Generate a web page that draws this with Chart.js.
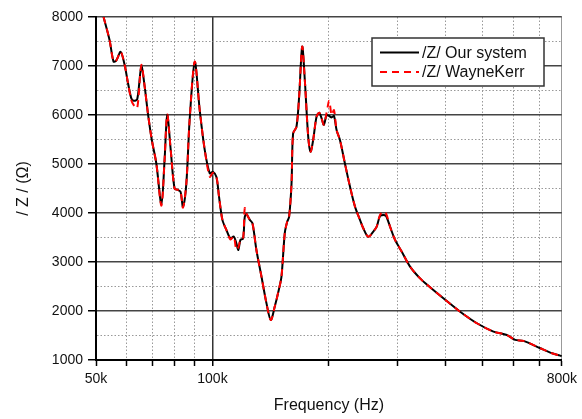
<!DOCTYPE html>
<html>
<head>
<meta charset="utf-8">
<script src="https://cdn.jsdelivr.net/npm/chart.js@4.4.0/dist/chart.umd.min.js"></script>
<style>
  html, body { margin: 0; padding: 0; background: #fff; }
  #wrap { width: 582px; height: 419px; }
</style>
</head>
<body>
<div id="wrap"><canvas id="impedance" width="582" height="419"></canvas></div>
<script>
// frequency in kHz
var freqKHz = [52.3, 54.2, 55.5, 56.4, 57.9, 59.3, 60.4, 61.7, 62.6, 63.9,
  65.5, 66.8, 68.1, 69.7, 71.6, 73.8, 75.2, 76.4, 78.0, 79.8,
  81.4, 82.7, 83.9, 85.6, 87.3, 90.0, 92.7, 95.5, 98.4, 100.3,
  102.4, 104.0, 106.1, 108.7, 111.3, 113.5, 115.3, 116.7, 118.1, 120.0,
  121.2, 122.4, 124.9, 126.9, 129.9, 133.9, 137.9, 141.5, 144.9, 148.4,
  150.8, 153.8, 156.0, 157.8, 160.1, 161.6, 164.9, 167.5, 170.6, 173.3,
  176.8, 179.3, 182.1, 185.8, 188.8, 191.5, 194.1, 197.3, 200.4, 203.2,
  206.1, 209.4, 213.6, 220.0, 226.7, 233.6, 240.6, 245.4, 252.8, 260.5,
  265.8, 271.1, 276.5, 281.0, 287.8, 296.5, 308.6, 324.2, 344.1, 365.2,
  395.3, 436.8, 482.6, 532.6, 576.7, 606.0, 636.8, 703.7, 746.9, 792.6, 800];

var ourSystem = [8000, 7530, 7090, 7110, 7290, 7020, 6680, 6340, 6290, 6320,
  6990, 6580, 6035, 5490, 5010, 4180, 5080, 6000, 5290, 4500,
  4470, 4435, 4130, 4600, 5900, 7080, 6100, 5290, 4810, 4840,
  4735, 4330, 3860, 3650, 3480, 3520, 3380, 3245, 3450, 3480,
  3920, 3980, 3860, 3790, 3245, 2700, 2160, 1815, 2090, 2430,
  2700, 3590, 3820, 3920, 4600, 5620, 5760, 6370, 7395, 6710,
  5560, 5250, 5490, 5965, 6045, 5930, 5800, 6000, 5980, 5950,
  5980, 5690, 5490, 5010, 4540, 4130, 3860, 3690, 3515, 3620,
  3720, 3940, 3960, 3940, 3720, 3450, 3210, 2905, 2665, 2485,
  2260, 1985, 1750, 1580, 1510, 1410, 1390, 1240, 1150, 1090, 1080];

var wayneKerr = [8000, 7530, 7090, 7110, 7290, 7020, 6680, 6300, 6200, 6140,
  7020, 6580, 6035, 5490, 5010, 4150, 5080, 6010, 5290, 4500,
  4470, 4440, 4110, 4600, 5900, 7090, 6100, 5290, 4740, 4820,
  4735, 4330, 3860, 3650, 3460, 3520, 3250, 3300, 3450, 3480,
  4100, 3990, 3860, 3790, 3245, 2700, 2160, 1815, 2090, 2430,
  2700, 3590, 3820, 3920, 4600, 5620, 5760, 6370, 7395, 6710,
  5560, 5250, 5490, 5965, 6045, 5930, 5800, 6050, 6290, 6000,
  6100, 5690, 5490, 5010, 4540, 4130, 3860, 3690, 3515, 3620,
  3720, 3960, 4030, 3990, 3720, 3450, 3210, 2905, 2665, 2485,
  2260, 1985, 1750, 1580, 1510, 1410, 1390, 1240, 1150, 1090, 1080];

var xTicks = [50, 60, 70, 80, 90, 100, 200, 300, 400, 500, 600, 700, 800];
var xLabelled = [50, 100, 800];
var seriesLabels = ['/Z/ Our system', '/Z/ WayneKerr'];

var fontFamily = '"Liberation Sans", Arial, sans-serif';

function toPoints(vals) {
  return freqKHz.map(function(f, i){ return {x: f, y: vals[i]}; });
}

// legend box drawn inside the plot, like the original
var boxLegend = {
  id: 'boxLegend',
  afterDraw: function(chart) {
    var ctx = chart.ctx;
    var a = chart.chartArea;
    var x0 = a.left + 276, y0 = a.top + 21, w = 172, h = 48;
    ctx.save();
    ctx.fillStyle = '#fff';
    ctx.fillRect(x0, y0, w, h);
    ctx.strokeStyle = '#333';
    ctx.lineWidth = 1.5;
    ctx.strokeRect(x0, y0, w, h);
    ctx.font = '16px ' + fontFamily;
    ctx.textBaseline = 'middle';
    chart.data.datasets.forEach(function(ds, i){
      var ly = y0 + 14.5 + i * 19.5;
      ctx.beginPath();
      ctx.strokeStyle = ds.borderColor;
      ctx.lineWidth = 2;
      ctx.setLineDash(ds.borderDash || []);
      ctx.moveTo(x0 + 8, ly);
      ctx.lineTo(x0 + 47, ly);
      ctx.stroke();
      ctx.setLineDash([]);
      ctx.fillStyle = '#111';
      ctx.fillText(ds.label, x0 + 50, ly + 1);
    });
    ctx.restore();
  }
};

var ctx = document.getElementById('impedance');
var impChart = new Chart(ctx, {
  type: 'line',
  data: {
    datasets: [{
      label: seriesLabels[0],
      data: toPoints(ourSystem),
      borderColor: '#000',
      borderWidth: 2,
      pointRadius: 0,
      tension: 0.3,
      order: 1
    }, {
      label: seriesLabels[1],
      data: toPoints(wayneKerr),
      borderColor: '#ff0000',
      borderWidth: 2,
      borderDash: [7, 5],
      pointRadius: 0,
      tension: 0.3,
      order: 0
    }]
  },
  options: {
    responsive: false,
    animation: false,
    events: [],
    layout: {
      padding: { top: 17, right: 20, left: 0, bottom: 0 }
    },
    plugins: {
      legend: { display: false },
      tooltip: { enabled: false }
    },
    scales: {
      x: {
        type: 'logarithmic',
        min: 50,
        max: 800,
        afterBuildTicks: function(scale){
          scale.ticks = xTicks.map(function(v){ return {value: v}; });
        },
        afterFit: function(scale){ scale.height = 59; },
        ticks: {
          autoSkip: false,
          maxRotation: 0,
          color: '#111',
          padding: 5,
          font: { family: fontFamily, size: 14 },
          callback: function(v){ return xLabelled.indexOf(v) >= 0 ? v + 'k' : ''; }
        },
        grid: {
          color: function(c){
            if (!c.tick) return '#888';
            return (c.tick.value === 100) ? '#333' : '#999';
          },
          lineWidth: function(c){
            return (c.tick && c.tick.value === 100) ? 1.5 : 1;
          },
          tickColor: '#000',
          tickLength: 6,
          tickWidth: 1.5
        },
        border: {
          color: '#000',
          width: 2,
          dash: function(c){
            if (!c.tick) return [];
            return (c.tick.value === 100 || c.tick.value === 800 || c.tick.value === 50) ? [] : [1.5, 2];
          }
        },
        title: {
          display: true,
          text: 'Frequency (Hz)',
          color: '#111',
          font: { family: fontFamily, size: 16 },
          padding: { top: 0, bottom: 4 }
        }
      },
      y: {
        type: 'linear',
        min: 1000,
        max: 8000,
        afterFit: function(scale){ scale.width = 96; },
        ticks: {
          stepSize: 500,
          autoSkip: false,
          color: '#111',
          padding: 5,
          font: { family: fontFamily, size: 14 },
          callback: function(v){ return v % 1000 === 0 ? v : ''; }
        },
        grid: {
          color: function(c){
            if (!c.tick) return '#888';
            return c.tick.value % 1000 === 0 ? '#444' : '#999';
          },
          lineWidth: function(c){
            return (c.tick && c.tick.value % 1000 === 0) ? 1.5 : 1;
          },
          tickColor: function(c){
            return (c.tick && c.tick.value % 1000 === 0) ? '#000' : 'rgba(0,0,0,0)';
          },
          tickLength: 8,
          tickWidth: 1.5
        },
        border: {
          color: '#000',
          width: 2,
          dash: function(c){
            if (!c.tick) return [];
            return c.tick.value % 1000 === 0 ? [] : [1.5, 2];
          }
        },
        title: {
          display: true,
          text: '/ Z / (\u03A9)',
          color: '#111',
          font: { family: fontFamily, size: 16 },
          padding: { top: 14, bottom: 0 }
        }
      }
    }
  },
  plugins: [boxLegend]
});
</script>
</body>
</html>
